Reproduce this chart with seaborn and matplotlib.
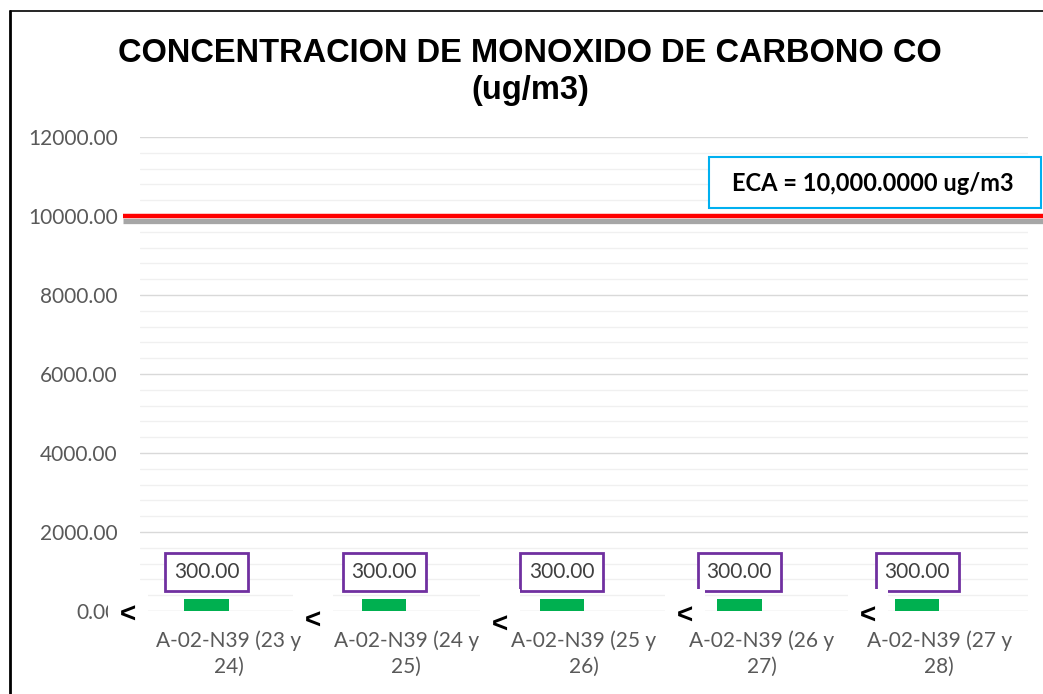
import matplotlib
matplotlib.use("Agg")
import matplotlib.pyplot as plt
import matplotlib.transforms as mtransforms
from matplotlib.patches import Rectangle
from matplotlib.lines import Line2D
from matplotlib.ticker import MultipleLocator, FixedLocator
import pandas as pd
import seaborn as sns

# ---------------- data ----------------
categories = ["A-02-N39 (23 y\n24)", "A-02-N39 (24 y\n25)", "A-02-N39 (25 y\n26)",
              "A-02-N39 (26 y\n27)", "A-02-N39 (27 y\n28)"]
co_values = [300.0, 300.0, 300.0, 300.0, 300.0]
series_names = ["CO", "ECA"]
eca_value = 10000.0
eca_label = "ECA = 10,000.0000 ug/m3"
title = "CONCENTRACION DE MONOXIDO DE CARBONO CO\n(ug/m3)"
y_ticks = [0, 2000, 4000, 6000, 8000, 10000, 12000]
y_tick_labels = ["0.00", "2000.00", "4000.00", "6000.00", "8000.00", "10000.00", "12000.00"]
less_than_marks = ["<", "<", "<", "<", "<"]

# ---------------- style ----------------
sns.set_theme(style="white")
plt.rcParams["font.family"] = ["Lato", "DejaVu Sans"]

W, H = 1043, 694
fig = plt.figure(figsize=(W / 100, H / 100), dpi=100)
fig.patch.set_facecolor("white")

def fx(px):
    return px / W

def fy(py):
    return 1 - py / H

ax = fig.add_axes([fx(140), fy(611), fx(1028) - fx(140), fy(137) - fy(611)])

df = pd.DataFrame({"cat": categories, "val": co_values, "serie": series_names[0]})
sns.barplot(data=df, x="cat", y="val", hue="serie", hue_order=series_names,
            palette={"CO": "#00B050", "ECA": "#FF0000"}, width=0.5, dodge=True,
            saturation=1, linewidth=0, legend=False, ax=ax, zorder=3)

ax.set_ylim(0, 12000)
ax.set_xlim(-0.5, len(categories) - 0.5)
ax.yaxis.set_major_locator(FixedLocator(y_ticks))
ax.set_yticklabels(y_tick_labels)
ax.yaxis.set_minor_locator(MultipleLocator(400))
ax.grid(which="minor", axis="y", color="#F0F0F0", linewidth=1.0, zorder=0)
ax.grid(which="major", axis="y", color="#D9D9D9", linewidth=1.0, zorder=0)
ax.set_axisbelow(True)
for s in ax.spines.values():
    s.set_visible(False)
ax.set_xlabel("")
ax.set_ylabel("")
ax.tick_params(axis="y", length=0, pad=16, labelsize=15, labelcolor="#595959")
ax.tick_params(axis="x", length=0, pad=14, labelsize=15, labelcolor="#595959")
for t in ax.get_xticklabels():
    t.set_linespacing(1.35)

# value labels
for p, v in zip([p for p in ax.patches if p.get_height() > 0], co_values):
    ax.annotate(f"{v:.2f}", xy=(p.get_x() + p.get_width() / 2, v),
                xytext=(0, 27), textcoords="offset pixels",
                ha="center", va="center", fontsize=15, color="#404040",
                bbox=dict(boxstyle="square,pad=0.42", fc="white", ec="#7030A0", lw=2.0),
                zorder=5)

# ECA line (red with grey shadow), extends beyond the plot area
blend = mtransforms.blended_transform_factory(ax.transAxes, ax.transData)
shadow = blend + mtransforms.ScaledTranslation(0, -5 / 100, fig.dpi_scale_trans)
ax.plot([-0.019, 1.02], [eca_value, eca_value], transform=shadow, color="#A6A6A6",
        lw=3.8, clip_on=False, zorder=4, solid_capstyle="butt")
ax.plot([-0.019, 1.02], [eca_value, eca_value], transform=blend, color="#FF0000",
        lw=3.2, clip_on=False, zorder=4, solid_capstyle="butt")

# ECA box
fig.add_artist(Rectangle((fx(709), fy(208)), fx(1041) - fx(709), fy(157) - fy(208),
                         transform=fig.transFigure, fc="white", ec="#00B0F0", lw=1.5, zorder=6))
fig.text(fx(873), fy(183), eca_label, ha="center", va="center", fontsize=17,
         fontweight="bold", color="black", zorder=7)

# "<" marks with white boxes
mark_pos = [(128, 616), (313, 622), (500, 626), (685, 617), (868, 617)]
for m, (px, py) in zip(less_than_marks, mark_pos):
    fig.add_artist(Rectangle((fx(px - 20), fy(630)), fx(40), fy(589) - fy(630),
                             transform=fig.transFigure, fc="white", ec="none", zorder=6))
    fig.text(fx(px), fy(py), m, ha="center", va="center", fontsize=20,
             fontweight="bold", color="black", zorder=7, family="Liberation Sans")

# title
fig.text(fx(530), fy(72), title, ha="center", va="center", fontsize=23.5,
         fontweight="bold", color="black", family="Liberation Sans", linespacing=1.22)

# outer frame (left and top)
fig.add_artist(Line2D([fx(10), fx(10)], [fy(11), 0], transform=fig.transFigure,
                      color="black", lw=2.0))
fig.add_artist(Line2D([fx(10), 1], [fy(11), fy(11)], transform=fig.transFigure,
                      color="black", lw=1.2))

fig.savefig("out.png", dpi=100, facecolor="white")
